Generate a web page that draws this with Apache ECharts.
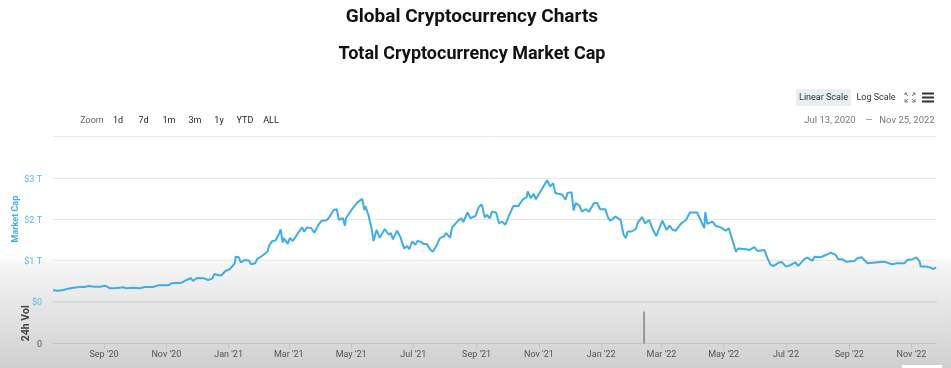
<!DOCTYPE html>
<html>
<head>
<meta charset="utf-8">
<title>Global Cryptocurrency Charts</title>
<script src="https://cdn.jsdelivr.net/npm/echarts@6/dist/echarts.min.js"></script>
<style>
  html, body { margin: 0; padding: 0; background: #fff; }
  #chart { width: 951px; height: 368px; }
</style>
</head>
<body>
<div id="chart"></div>
<script>
const startDate = '2020-07-13';
const endDate = '2022-11-25';
// days since startDate, total market cap in $ trillions
const marketCap = [
  [0,.275],[5,.267],[10,.283],[15,.316],[20,.34],[26,.356],[31,.356],[35,.38],[41,.364],[46,.364],
  [51,.388],[53,.364],[56,.324],[60,.324],[65,.34],[69,.348],[72,.324],[78,.34],[85,.324],[90,.356],
  [98,.356],[103,.396],[113,.396],[116,.445],[126,.46],[131,.526],[135,.574],[137,.5],[141,.574],[148,.566],
  [152,.526],[156,.558],[158,.67],[162,.64],[165,.64],[169,.744],[173,.785],[176,.866],[178,.93],[179,1.09],
  [182,1.076],[184,.955],[188,1.01],[192,.995],[194,.906],[198,.93],[200,1.03],[206,1.13],[210,1.21],[212,1.375],
  [215,1.47],[218,1.48],[221,1.62],[223,1.75],[225,1.43],[226,1.54],[230,1.4],[232,1.54],[235,1.47],[240,1.66],
  [244,1.8],[246,1.7],[249,1.8],[253,1.78],[256,1.67],[260,1.86],[263,1.96],[268,1.97],[271,2.06],[275,2.22],
  [278,2.24],[280,1.98],[284,2.02],[286,1.84],[287,2.02],[293,2.24],[298,2.4],[303,2.49],[305,2.22],[306,2.31],
  [309,2.1],[312,1.78],[314,1.47],[317,1.74],[320,1.55],[325,1.76],[329,1.62],[331,1.66],[333,1.51],[337,1.72],
  [340,1.58],[344,1.29],[347,1.35],[349,1.27],[352,1.46],[355,1.375],[357,1.47],[360,1.455],[363,1.4],[366,1.4],
  [370,1.25],[372,1.21],[376,1.375],[379,1.54],[383,1.58],[385,1.66],[389,1.55],[391,1.8],[396,1.94],[400,2.02],
  [402,1.93],[406,2.16],[409,2.02],[414,2.08],[417,2.29],[420,2.36],[423,2.04],[425,2.1],[428,2.02],[430,2.18],
  [434,2.16],[437,1.9],[440,1.94],[443,1.86],[447,2.1],[451,2.32],[456,2.32],[460,2.47],[464,2.53],[465,2.67],
  [468,2.51],[471,2.61],[473,2.48],[476,2.61],[479,2.73],[484,2.94],[487,2.79],[490,2.87],[492,2.63],[499,2.59],
  [502,2.47],[504,2.63],[508,2.65],[510,2.21],[512,2.39],[516,2.32],[518,2.18],[522,2.24],[525,2.18],[530,2.39],
  [533,2.39],[536,2.24],[541,2.24],[544,2.02],[546,1.96],[551,2.06],[556,1.98],[559,1.62],[561,1.54],[563,1.7],
  [567,1.7],[571,1.76],[573,1.92],[577,2.05],[580,1.9],[584,1.98],[587,1.78],[591,1.59],[594,1.78],[597,1.96],
  [601,1.74],[604,1.84],[607,1.74],[610,1.72],[615,1.885],[620,1.98],[624,2.16],[631,2.16],[635,1.94],[638,1.78],
  [639,2.17],[641,1.885],[646,1.94],[649,1.84],[654,1.8],[659,1.72],[662,1.78],[667,1.375],[669,1.21],[671,1.29],
  [679,1.27],[682,1.25],[687,1.32],[690,1.23],[697,1.25],[700,1.05],[703,.89],[706,.866],[711,.947],[714,.96],
  [718,.85],[723,.89],[727,.955],[730,.866],[736,1.03],[739,1.07],[744,.987],[746,1.09],[752,1.076],[757,1.13],
  [762,1.19],[767,1.13],[769,1.03],[773,1.03],[777,.97],[785,.987],[788,1.05],[792,1.076],[798,.93],[808,.955],
  [814,.97],[822,.906],[827,.93],[834,.93],[837,1.01],[842,1.03],[846,1.07],[849,.97],[850,.85],[855,.85],
  [860,.825],[862,.785],[865,.833]
];
const volume = [[579, 79]];
const tickDates = ['2020-09-01','2020-11-01','2021-01-01','2021-03-01','2021-05-01','2021-07-01','2021-09-01','2021-11-01','2022-01-01','2022-03-01','2022-05-01','2022-07-01','2022-09-01','2022-11-01'];
const tickLabels = ["Sep '20","Nov '20","Jan '21","Mar '21","May '21","Jul '21","Sep '21","Nov '21","Jan '22","Mar '22","May '22","Jul '22","Sep '22","Nov '22"];
const capTicks = ['$0', '$1 T', '$2 T', '$3 T', ''];
const zoomButtons = ['1d', '7d', '1m', '3m', '1y', 'YTD', 'ALL'];
const zoomButtonX = [118, 143.5, 169, 195, 219, 245, 271];

const DAY = 86400000;
const t0 = Date.parse(startDate);
const t1 = Date.parse(endDate);
const tickTimes = tickDates.map(d => Date.parse(d));
const toTime = p => [t0 + p[0] * DAY, p[1]];

const font = 'Roboto';
const blue = '#3fade8';

function label(text, x, y, opt) {
  return {
    type: 'text', x: x, y: y, rotation: (opt && opt.rotation) || 0,
    style: Object.assign({ text: text, fontFamily: font, fontSize: 9, fill: '#333', align: 'center', verticalAlign: 'middle' }, opt && opt.style)
  };
}
function seg(points, color, width) {
  return { type: 'polyline', shape: { points: points }, style: { stroke: color, lineWidth: width, fill: null } };
}

let myChart = echarts.init(document.getElementById('chart'));
myChart.setOption({
  animation: false,
  backgroundColor: {
    type: 'linear', x: 0, y: 0, x2: 0, y2: 1,
    colorStops: [
      { offset: 0, color: '#ffffff' },
      { offset: 0.70, color: '#ffffff' },
      { offset: 0.715, color: '#f6f6f6' },
      { offset: 1, color: '#cfcfcf' }
    ]
  },
  grid: [
    { left: 53, right: 15, top: 136.5, height: 165.2, outerBoundsMode: 'none' },
    { left: 53, right: 15, top: 303, height: 40.5, outerBoundsMode: 'none' }
  ],
  xAxis: [
    {
      type: 'value', gridIndex: 0, min: t0, max: t1,
      axisLabel: { show: false },
      axisTick: { show: false },
      splitLine: { show: false },
      axisLine: { show: true, lineStyle: { color: '#d9d9d9', width: 2 } }
    },
    {
      type: 'value', gridIndex: 1, min: t0, max: t1,
      axisLine: { show: true, lineStyle: { color: '#c4c4c4', width: 1 } },
      axisTick: { show: true, length: 5, lineStyle: { color: '#c4c4c4' }, customValues: tickTimes },
      splitLine: { show: false },
      axisLabel: {
        color: '#555', fontFamily: font, fontSize: 9, margin: 7,
        customValues: tickTimes,
        formatter: function (value) {
          return tickLabels[tickTimes.indexOf(value)] || '';
        }
      }
    }
  ],
  yAxis: [
    {
      type: 'value', gridIndex: 0, min: 0, max: 4, interval: 1,
      name: 'Market Cap', nameLocation: 'middle', nameGap: 33, nameRotate: 90, nameMoveOverlap: false,
      nameTextStyle: { color: blue, fontFamily: font, fontSize: 9, fontWeight: 'bold' },
      axisLine: { show: false },
      axisTick: { show: false },
      axisLabel: {
        color: '#5ab8ec', fontFamily: font, fontSize: 9, margin: 11,
        verticalAlign: 'top', lineHeight: 3,
        formatter: function (value) { return capTicks[value]; }
      },
      splitLine: { lineStyle: { color: '#e8e8e8', width: 1 } }
    },
    {
      type: 'value', gridIndex: 1, min: 0, max: 100, interval: 100,
      name: '24h Vol', nameLocation: 'middle', nameGap: 21, nameRotate: 90, nameMoveOverlap: false,
      nameTextStyle: { color: '#444', fontFamily: font, fontSize: 10.5, fontWeight: 'bold' },
      axisLine: { show: false },
      axisTick: { show: false },
      axisLabel: {
        color: '#555', fontFamily: font, fontSize: 9, margin: 11,
        verticalAlign: 'top', lineHeight: 3,
        formatter: function (value) { return value === 0 ? '0' : ''; }
      },
      splitLine: { show: false }
    }
  ],
  series: [
    {
      name: 'Market Cap', type: 'line', xAxisIndex: 0, yAxisIndex: 0,
      showSymbol: false, smooth: false,
      lineStyle: { color: blue, width: 2 },
      data: marketCap.map(toTime)
    },
    {
      name: '24h Vol', type: 'bar', xAxisIndex: 1, yAxisIndex: 1,
      barWidth: 1,
      itemStyle: { color: '#555' },
      data: volume.map(toTime)
    }
  ],
  graphic: [
    label('Global Cryptocurrency Charts', 472, 17, { style: { fontSize: 19, fontWeight: 'bold', fill: '#111' } }),
    label('Total Cryptocurrency Market Cap', 472, 54, { style: { fontSize: 18, fontWeight: 'bold', fill: '#111' } }),
    label('Zoom', 92, 121, { style: { fill: '#666' } })
  ].concat(
    zoomButtons.map((b, i) => label(b, zoomButtonX[i], 121, { style: { fill: '#222' } })),
    [
      { type: 'rect', shape: { x: 796, y: 89, width: 55, height: 17, r: 2 }, style: { fill: '#e9eef2' } },
      label('Linear Scale', 823.5, 98),
      label('Log Scale', 876, 98),
      seg([[905, 95], [905, 93], [907, 93]], '#777', 1),
      seg([[905, 93], [908, 96]], '#777', 1),
      seg([[913, 93], [915, 93], [915, 95]], '#777', 1),
      seg([[915, 93], [912, 96]], '#777', 1),
      seg([[905, 99], [905, 102], [908, 102]], '#777', 1),
      seg([[905, 102], [908, 99]], '#777', 1),
      seg([[912, 102], [915, 102], [915, 99]], '#777', 1),
      seg([[915, 102], [912, 99]], '#777', 1),
      { type: 'rect', shape: { x: 922, y: 92.5, width: 12, height: 2 }, style: { fill: '#333' } },
      { type: 'rect', shape: { x: 922, y: 96.5, width: 12, height: 2 }, style: { fill: '#333' } },
      { type: 'rect', shape: { x: 922, y: 100.5, width: 12, height: 2 }, style: { fill: '#333' } },
      label('Jul 13, 2020', 830, 121, { style: { fill: '#777', fontSize: 9.5 } }),
      label('\u2014', 869, 121, { style: { fill: '#777' } }),
      label('Nov 25, 2022', 907, 121, { style: { fill: '#777', fontSize: 9.5 } }),
      { type: 'rect', shape: { x: 902, y: 365, width: 40, height: 3 }, style: { fill: '#fff' } }
    ]
  )
});
</script>
</body>
</html>
